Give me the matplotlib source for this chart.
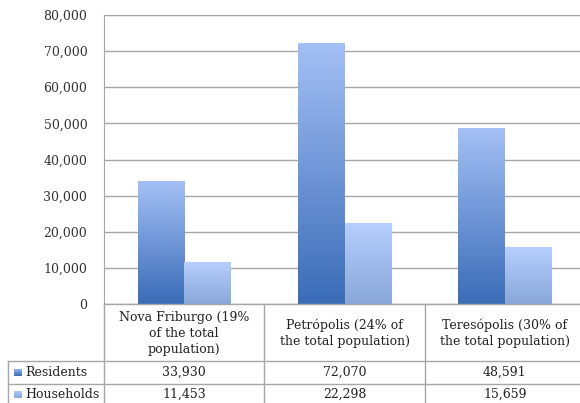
import numpy as np
import matplotlib
matplotlib.use('Agg')
import matplotlib.pyplot as plt
from matplotlib.colors import LinearSegmentedColormap

categories = ['Nova Friburgo (19%\nof the total\npopulation)',
              'Petrópolis (24% of\nthe total population)',
              'Teresópolis (30% of\nthe total population)']
series = ['Residents', 'Households']
residents = [33930, 72070, 48591]
households = [11453, 22298, 15659]

plt.rcParams['font.family'] = ['DejaVu Serif']
plt.rcParams['font.size'] = 9

W, H = 580, 403
fig = plt.figure(figsize=(W / 100, H / 100), dpi=100)

# plot area in pixels (right edge runs past the picture, as in the original crop)
px0, px1, py_top, py_bot = 104, 585, 15, 304
ax = fig.add_axes([px0 / W, 1 - py_bot / H, (px1 - px0) / W, (py_bot - py_top) / H])

cmaps = [LinearSegmentedColormap.from_list('r', ['#3a6cb7', '#a4c0f5']),
         LinearSegmentedColormap.from_list('h', ['#89a7da', '#b6cffc'])]
grad = np.linspace(0, 1, 256).reshape(-1, 1)

bw = 0.29
x = np.arange(len(categories))
for i, vals in enumerate([residents, households]):
    for xi, v in zip(x, vals):
        left = xi - bw + i * bw
        ax.imshow(grad, extent=[left, left + bw, 0, v], origin='lower',
                  cmap=cmaps[i], aspect='auto', zorder=3)

ax.set_xlim(-0.5, len(categories) - 0.5)
ax.set_ylim(0, 80000)
ax.set_yticks(np.arange(0, 80001, 10000))
ax.set_yticklabels([f'{v:,}' for v in range(0, 80001, 10000)], color='#333333')
ax.set_xticks([])
ax.grid(axis='y', color='#a6a6a6', lw=1, zorder=0)
ax.tick_params(axis='y', length=0, pad=12)
for s in ['right', 'bottom']:
    ax.spines[s].set_visible(False)
ax.spines['top'].set_color('#a6a6a6')
ax.spines['left'].set_color('#a6a6a6')

# data table below the plot
lc = '#a6a6a6'
col_edges = [104 + k * (px1 - px0) / 3 for k in range(4)]
row1, row2, row3 = 304, 361, 384
def fx(p):
    return p / W
def fy(p):
    return 1 - p / H

fig.add_artist(plt.Line2D([fx(104), fx(px1)], [fy(row1), fy(row1)], color=lc, lw=1))
for r in [row2, row3]:
    fig.add_artist(plt.Line2D([fx(8), fx(px1)], [fy(r), fy(r)], color=lc, lw=1))
fig.add_artist(plt.Line2D([fx(8), fx(8)], [fy(row2), fy(403)], color=lc, lw=1))
for c in col_edges[:-1]:
    fig.add_artist(plt.Line2D([fx(c), fx(c)], [fy(row1), fy(403)], color=lc, lw=1))

for j, cat in enumerate(categories):
    cx = (col_edges[j] + col_edges[j + 1]) / 2
    fig.text(fx(cx), fy((row1 + row2) / 2 + 1), cat, ha='center', va='center',
             linespacing=1.35, color='#222222')
    fig.text(fx(cx), fy((row2 + row3) / 2), f'{residents[j]:,}', ha='center', va='center', color='#222222')
    fig.text(fx(cx), fy((row3 + 403) / 2 + 1), f'{households[j]:,}', ha='center', va='center', color='#222222')

for i, (name, ymid) in enumerate(zip(series, [(row2 + row3) / 2, (row3 + 403) / 2 + 1])):
    kax = fig.add_axes([fx(14), fy(ymid + 4), 8 / W, 8 / H])
    kax.imshow(grad, cmap=cmaps[i], origin='lower', aspect='auto', extent=[0, 1, 0, 1])
    kax.axis('off')
    fig.text(fx(25), fy(ymid), name, ha='left', va='center', color='#222222')

fig.savefig('out.png', dpi=100)
